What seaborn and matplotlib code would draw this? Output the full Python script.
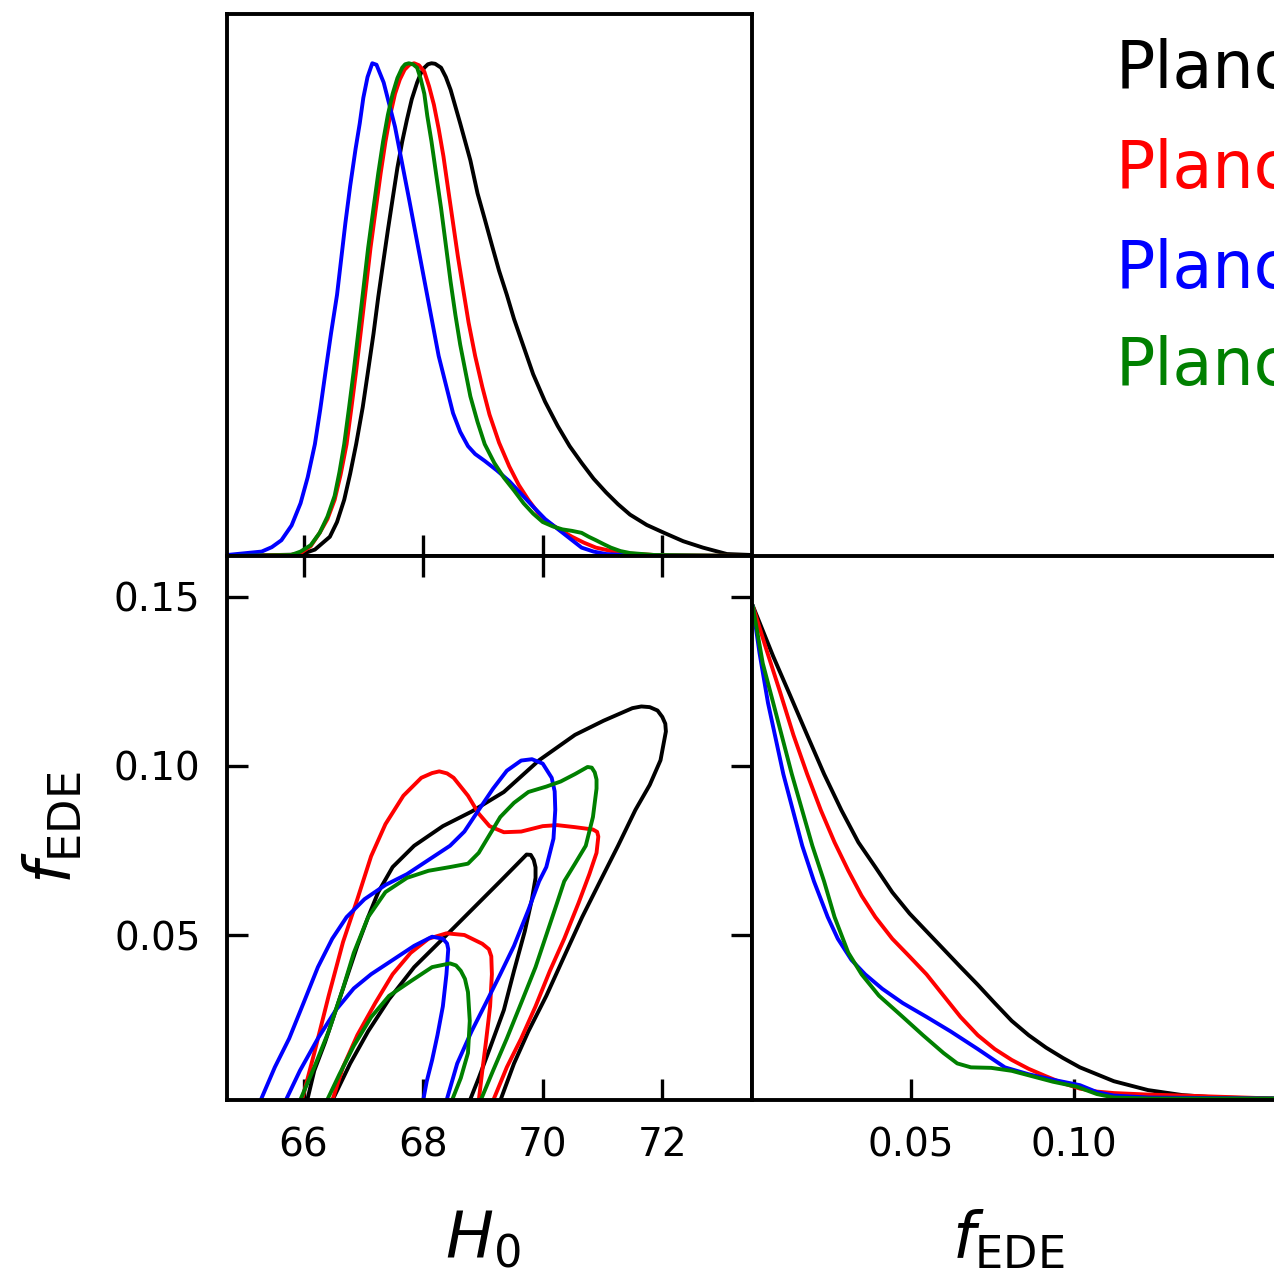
import numpy as np
import pandas as pd
import matplotlib
matplotlib.use("Agg")
import matplotlib.pyplot as plt
from matplotlib.ticker import FormatStrFormatter
import seaborn as sns

# ---------------- data ----------------
labels = ["Planck", "Planck+BAO", "Planck+SN", "Planck+BAO+SN"]
colors = ["black", "red", "blue", "green"]

# 1D marginal of H0 (normalised to peak = 1)
h0_black_x = [64.72, 65.95, 66.19, 66.44, 66.56, 66.68, 66.78, 66.88, 66.99, 67.08, 67.17, 67.25, 67.33, 67.41, 67.49,
              67.57, 67.65, 67.73, 67.81, 67.90, 67.96, 68.02, 68.08, 68.14, 68.20, 68.30, 68.38, 68.46, 68.62, 68.79,
              68.91, 69.03, 69.15, 69.27, 69.40, 69.52, 69.68, 69.84, 70.04, 70.25, 70.45, 70.65, 70.85, 71.06, 71.26,
              71.46, 71.74, 72.03, 72.35, 72.68, 73.08, 73.50]
h0_black_p = [0.0, 0.003, 0.013, 0.039, 0.069, 0.114, 0.167, 0.227, 0.302, 0.376, 0.451, 0.526, 0.594, 0.661, 0.725,
              0.788, 0.841, 0.886, 0.927, 0.961, 0.979, 0.991, 0.998, 1.0, 0.999, 0.991, 0.972, 0.946, 0.878, 0.803,
              0.736, 0.684, 0.631, 0.579, 0.530, 0.481, 0.425, 0.369, 0.313, 0.264, 0.223, 0.189, 0.157, 0.129, 0.105,
              0.084, 0.063, 0.047, 0.030, 0.017, 0.004, 0.002]
h0_red_x = [64.72, 65.79, 65.95, 66.12, 66.27, 66.40, 66.52, 66.62, 66.72, 66.80, 66.88, 66.96, 67.04, 67.12, 67.21,
            67.29, 67.37, 67.45, 67.53, 67.61, 67.69, 67.77, 67.85, 67.93, 68.02, 68.10, 68.18, 68.26, 68.34, 68.42,
            68.50, 68.58, 68.67, 68.76, 68.87, 68.99, 69.11, 69.27, 69.44, 69.60, 69.76, 69.92, 70.08, 70.29, 70.49,
            70.69, 70.89, 71.30, 71.87, 73.50]
h0_red_p = [0.0, 0.002, 0.006, 0.020, 0.047, 0.075, 0.114, 0.165, 0.227, 0.300, 0.376, 0.458, 0.541, 0.625, 0.706,
            0.777, 0.841, 0.895, 0.938, 0.967, 0.987, 0.997, 1.0, 0.996, 0.983, 0.953, 0.916, 0.867, 0.811, 0.743,
            0.676, 0.609, 0.541, 0.474, 0.406, 0.343, 0.287, 0.230, 0.182, 0.144, 0.114, 0.088, 0.069, 0.053, 0.039,
            0.027, 0.017, 0.006, 0.002, 0.0]
h0_blue_x = [64.72, 65.30, 65.47, 65.63, 65.80, 65.95, 66.07, 66.19, 66.28, 66.37, 66.46, 66.56, 66.70, 66.78, 66.87,
             66.94, 67.00, 67.07, 67.15, 67.22, 67.34, 67.53, 67.77, 68.02, 68.26, 68.50, 68.62, 68.75, 68.87, 69.03,
             69.23, 69.44, 69.64, 69.84, 70.04, 70.25, 70.45, 70.65, 70.85, 71.06, 71.46, 73.50]
h0_blue_p = [0.002, 0.009, 0.018, 0.032, 0.062, 0.107, 0.160, 0.227, 0.298, 0.376, 0.452, 0.530, 0.676, 0.751, 0.826,
             0.878, 0.930, 0.972, 1.0, 0.997, 0.961, 0.871, 0.721, 0.560, 0.406, 0.290, 0.252, 0.223, 0.207, 0.193,
             0.174, 0.152, 0.126, 0.100, 0.075, 0.055, 0.036, 0.017, 0.009, 0.004, 0.001, 0.0]
h0_green_x = [64.72, 65.79, 65.95, 66.12, 66.27, 66.40, 66.52, 66.60, 66.68, 66.76, 66.84, 66.92, 67.00, 67.08, 67.17,
              67.25, 67.33, 67.41, 67.49, 67.57, 67.65, 67.70, 67.76, 67.83, 67.90, 67.96, 68.02, 68.07, 68.14, 68.22,
              68.30, 68.38, 68.46, 68.54, 68.62, 68.71, 68.79, 68.91, 69.03, 69.19, 69.35, 69.52, 69.68, 69.84, 70.00,
              70.17, 70.33, 70.49, 70.65, 70.77, 70.89, 71.02, 71.14, 71.30, 71.46, 71.87, 73.50]
h0_green_p = [0.0, 0.002, 0.009, 0.022, 0.047, 0.080, 0.122, 0.170, 0.227, 0.300, 0.376, 0.458, 0.541, 0.625, 0.706,
              0.777, 0.841, 0.895, 0.938, 0.970, 0.991, 0.998, 1.0, 0.998, 0.991, 0.968, 0.938, 0.893, 0.841, 0.773,
              0.706, 0.631, 0.556, 0.489, 0.429, 0.373, 0.324, 0.272, 0.227, 0.189, 0.159, 0.133, 0.107, 0.086, 0.069,
              0.060, 0.054, 0.051, 0.047, 0.039, 0.032, 0.024, 0.017, 0.010, 0.006, 0.002, 0.0]

# 1D marginal of f_EDE (normalised to max = 1)
f_black_x = [0.0014, 0.0077, 0.0129, 0.0181, 0.0233, 0.0286, 0.0338, 0.0390, 0.0442, 0.0495, 0.0547, 0.0599, 0.0651,
             0.0704, 0.0756, 0.0808, 0.0860, 0.0913, 0.0965, 0.1017, 0.1069, 0.1121, 0.1226, 0.1330, 0.1435, 0.1611]
f_black_p = [1.0, 0.897, 0.818, 0.738, 0.659, 0.586, 0.521, 0.471, 0.420, 0.377, 0.341, 0.305, 0.269,
             0.233, 0.196, 0.160, 0.131, 0.106, 0.085, 0.066, 0.052, 0.038, 0.020, 0.010, 0.005, 0.003]
f_red_x = [0.0014, 0.0056, 0.0098, 0.0139, 0.0181, 0.0223, 0.0265, 0.0307, 0.0348, 0.0390, 0.0442, 0.0495, 0.0547,
           0.0599, 0.0651, 0.0704, 0.0756, 0.0808, 0.0860, 0.0913, 0.0965, 0.1017, 0.1069, 0.1121, 0.1226, 0.1330, 0.1611]
f_red_p = [1.0, 0.911, 0.825, 0.738, 0.659, 0.586, 0.521, 0.464, 0.413, 0.370, 0.326, 0.290, 0.254,
           0.211, 0.168, 0.131, 0.103, 0.081, 0.063, 0.048, 0.034, 0.023, 0.017, 0.014, 0.011, 0.009, 0.003]
f_blue_x = [0.0014, 0.0035, 0.0061, 0.0108, 0.0166, 0.0202, 0.0244, 0.0275, 0.0317, 0.0359, 0.0411, 0.0474, 0.0547,
            0.0620, 0.0704, 0.0787, 0.0860, 0.0934, 0.1017, 0.1069, 0.1121, 0.1226, 0.1611]
f_blue_p = [1.0, 0.904, 0.803, 0.659, 0.514, 0.442, 0.370, 0.326, 0.283, 0.254, 0.225, 0.196, 0.168,
            0.139, 0.103, 0.066, 0.052, 0.041, 0.030, 0.016, 0.009, 0.005, 0.003]
f_green_x = [0.0014, 0.0045, 0.0077, 0.0134, 0.0197, 0.0233, 0.0265, 0.0307, 0.0348, 0.0401, 0.0474, 0.0536, 0.0599,
             0.0641, 0.0683, 0.0745, 0.0808, 0.0871, 0.0934, 0.1007, 0.1069, 0.1121, 0.1226, 0.1611]
f_green_p = [1.0, 0.883, 0.803, 0.659, 0.514, 0.442, 0.370, 0.298, 0.254, 0.211, 0.168, 0.131, 0.095,
             0.074, 0.066, 0.065, 0.059, 0.048, 0.037, 0.027, 0.012, 0.005, 0.003, 0.003]

# 2D contours (H0, f_EDE): outer = 95%, inner = 68%
c_black_out_h = [66.06, 66.18, 66.36, 66.54, 66.72, 66.90, 67.08, 67.25, 67.49, 67.85, 68.33, 68.81, 69.35, 69.94, 70.54,
                 71.02, 71.50, 71.65, 71.79, 71.92, 72.00, 72.05, 72.06, 71.97, 71.79, 71.55, 71.26, 70.96, 70.66, 70.36,
                 70.06, 69.76, 69.52, 69.29]
c_black_out_f = [0.001, 0.0099, 0.0183, 0.0278, 0.0373, 0.0468, 0.0553, 0.0627, 0.0701, 0.0764, 0.0822, 0.0865, 0.0923,
                 0.1017, 0.1092, 0.1134, 0.1171, 0.1176, 0.1174, 0.1164, 0.1145, 0.1125, 0.1102, 0.1017, 0.0944, 0.0870,
                 0.0764, 0.0659, 0.0553, 0.0437, 0.0320, 0.0215, 0.0120, 0.001]
c_black_in_h = [66.48, 66.78, 67.08, 67.43, 67.85, 68.33, 68.81, 69.29, 69.58, 69.73, 69.80, 69.85, 69.88, 69.88, 69.82,
                69.70, 69.52, 69.35, 69.11, 68.93, 68.78]
c_black_in_f = [0.001, 0.0120, 0.0215, 0.0310, 0.0405, 0.0489, 0.0574, 0.0659, 0.0711, 0.0738, 0.0737, 0.0722, 0.0700,
                0.0669, 0.0606, 0.0511, 0.0394, 0.0278, 0.0162, 0.0077, 0.001]
c_red_out_h = [65.97, 66.18, 66.42, 66.66, 66.90, 67.13, 67.37, 67.67, 67.97, 68.15, 68.27, 68.40, 68.51, 68.75, 68.93,
               69.11, 69.35, 69.64, 70.00, 70.24, 70.54, 70.84, 70.91, 70.93, 70.90, 70.78, 70.60, 70.36, 70.12, 69.88,
               69.64, 69.40, 69.17]
c_red_out_f = [0.001, 0.0151, 0.0320, 0.0479, 0.0606, 0.0733, 0.0828, 0.0912, 0.0965, 0.0979, 0.0984, 0.0978, 0.0965,
               0.0912, 0.0859, 0.0822, 0.0804, 0.0806, 0.0822, 0.0825, 0.0819, 0.0812, 0.0805, 0.0791, 0.0743, 0.0680,
               0.0595, 0.0489, 0.0394, 0.0289, 0.0194, 0.0109, 0.001]
c_red_in_h = [66.48, 66.66, 66.90, 67.20, 67.49, 67.79, 68.09, 68.39, 68.69, 68.99, 69.10, 69.14, 69.15, 69.12, 69.05,
              68.99, 68.93]
c_red_in_f = [0.001, 0.0109, 0.0204, 0.0299, 0.0384, 0.0447, 0.0489, 0.0505, 0.0500, 0.0474, 0.0458, 0.0437, 0.0384,
              0.0289, 0.0183, 0.0099, 0.001]
c_blue_out_h = [65.28, 65.52, 65.76, 66.00, 66.24, 66.48, 66.72, 67.02, 67.37, 67.73, 68.09, 68.45, 68.69, 68.93, 69.17,
                69.40, 69.64, 69.82, 70.00, 70.15, 70.20, 70.21, 70.18, 70.06, 69.94, 69.76, 69.52, 69.29, 69.05, 68.81,
                68.57, 68.39]
c_blue_out_f = [0.001, 0.0109, 0.0194, 0.0299, 0.0405, 0.0489, 0.0553, 0.0606, 0.0648, 0.0680, 0.0722, 0.0764, 0.0806,
                0.0870, 0.0933, 0.0986, 0.1016, 0.1020, 0.1007, 0.0965, 0.0925, 0.0870, 0.0785, 0.0701, 0.0659, 0.0574,
                0.0468, 0.0384, 0.0299, 0.0215, 0.0120, 0.001]
c_blue_in_h = [65.70, 65.94, 66.24, 66.54, 66.84, 67.13, 67.49, 67.85, 68.15, 68.33, 68.40, 68.42, 68.39, 68.33, 68.24,
               68.15, 68.06, 68.00]
c_blue_in_f = [0.001, 0.0099, 0.0194, 0.0278, 0.0342, 0.0384, 0.0426, 0.0468, 0.0495, 0.0489, 0.0475, 0.0458, 0.0384,
               0.0289, 0.0204, 0.0130, 0.0067, 0.001]
c_green_out_h = [65.94, 66.18, 66.42, 66.66, 66.84, 67.08, 67.37, 67.73, 68.09, 68.45, 68.75, 68.93, 69.11, 69.29, 69.52,
                 69.76, 70.06, 70.30, 70.54, 70.75, 70.82, 70.87, 70.90, 70.90, 70.84, 70.72, 70.54, 70.36, 70.24, 70.06,
                 69.88, 69.64, 69.40, 69.17, 68.96]
c_green_out_f = [0.001, 0.0109, 0.0215, 0.0342, 0.0447, 0.0553, 0.0627, 0.0669, 0.0690, 0.0701, 0.0711, 0.0743, 0.0796,
                 0.0849, 0.0891, 0.0923, 0.0939, 0.0954, 0.0976, 0.0997, 0.0995, 0.0981, 0.0960, 0.0933, 0.0849, 0.0764,
                 0.0711, 0.0659, 0.0595, 0.0500, 0.0405, 0.0299, 0.0194, 0.0099, 0.001]
c_green_in_h = [66.39, 66.60, 66.84, 67.13, 67.43, 67.79, 68.15, 68.45, 68.55, 68.63, 68.70, 68.75, 68.78, 68.75, 68.63,
                68.48]
c_green_in_f = [0.001, 0.0088, 0.0172, 0.0257, 0.0320, 0.0363, 0.0405, 0.0416, 0.0410, 0.0394, 0.0370, 0.0331, 0.0246,
                0.0151, 0.0077, 0.001]

h0_ticks = [66, 68, 70, 72]
f_ticks_y = [0.05, 0.10, 0.15]
f_ticks_x = [0.05, 0.10]

# ---------------- style ----------------
sns.set_theme(style="white")
plt.rcParams["font.family"] = ["DejaVu Sans"]
plt.rcParams["mathtext.fontset"] = "dejavusans"
plt.rcParams["lines.solid_joinstyle"] = "round"
plt.rcParams["lines.solid_capstyle"] = "round"

LW = 2.8
SPINE = 2.8
TICK_LEN = 15
TICK_W = 2.4
TICK_FS = 28

fig = plt.figure(figsize=(12.74, 12.73), dpi=100)
W, H = 1274.0, 1273.0
def rect(x0, y0, x1, y1):
    return [x0 / W, 1 - y1 / H, (x1 - x0) / W, (y1 - y0) / H]

ax_h = fig.add_axes(rect(227, 14, 752, 556))
ax_2d = fig.add_axes(rect(227, 556, 752, 1100))
ax_f = fig.add_axes(rect(752, 556, 1277, 1100))

H0_LIM = (64.72, 73.50)
F_LIM = (0.0012, 0.1621)

# top: H0 marginals
for xs, ps, c in [(h0_black_x, h0_black_p, colors[0]), (h0_red_x, h0_red_p, colors[1]),
                  (h0_blue_x, h0_blue_p, colors[2]), (h0_green_x, h0_green_p, colors[3])]:
    sns.lineplot(x=xs, y=ps, ax=ax_h, color=c, lw=LW, sort=False, estimator=None)
ax_h.set_xlim(*H0_LIM)
ax_h.set_ylim(0, 1.1)

# 2D contours
contours = [
    (c_black_out_h, c_black_out_f, colors[0]), (c_black_in_h, c_black_in_f, colors[0]),
    (c_red_out_h, c_red_out_f, colors[1]), (c_red_in_h, c_red_in_f, colors[1]),
    (c_blue_out_h, c_blue_out_f, colors[2]), (c_blue_in_h, c_blue_in_f, colors[2]),
    (c_green_out_h, c_green_out_f, colors[3]), (c_green_in_h, c_green_in_f, colors[3]),
]
for hs, fs, c in contours:
    sns.lineplot(x=hs, y=fs, ax=ax_2d, color=c, lw=LW, sort=False, estimator=None)
ax_2d.set_xlim(*H0_LIM)
ax_2d.set_ylim(*F_LIM)

# f_EDE marginals
for xs, ps, c in [(f_black_x, f_black_p, colors[0]), (f_red_x, f_red_p, colors[1]),
                  (f_blue_x, f_blue_p, colors[2]), (f_green_x, f_green_p, colors[3])]:
    sns.lineplot(x=xs, y=ps, ax=ax_f, color=c, lw=LW, sort=False, estimator=None)
ax_f.set_xlim(*F_LIM)
ax_f.set_ylim(0, 1.1)

# axes cosmetics
for ax in (ax_h, ax_2d, ax_f):
    for s in ax.spines.values():
        s.set_linewidth(SPINE)
        s.set_color("black")
        s.set_visible(True)
    ax.set_facecolor("white")

ax_h.set_xticks(h0_ticks)
ax_h.set_yticks([])
ax_h.tick_params(axis="x", direction="in", length=TICK_LEN, width=TICK_W, labelbottom=False,
                 bottom=True, color="black")

ax_2d.set_xticks(h0_ticks)
ax_2d.set_yticks(f_ticks_y)
ax_2d.yaxis.set_major_formatter(FormatStrFormatter("%.2f"))
ax_2d.tick_params(axis="both", direction="in", length=TICK_LEN, width=TICK_W, labelsize=TICK_FS,
                  top=True, right=True, bottom=True, left=True, color="black", labelcolor="black")
ax_2d.tick_params(axis="x", pad=19)
ax_2d.tick_params(axis="y", pad=19)

ax_f.set_xticks(f_ticks_x)
ax_f.set_yticks([])
ax_f.xaxis.set_major_formatter(FormatStrFormatter("%.2f"))
ax_f.tick_params(axis="x", direction="in", length=TICK_LEN, width=TICK_W, labelsize=TICK_FS, pad=19,
                 bottom=True, color="black", labelcolor="black")

ax_2d.set_xlabel(r"$H_0$", fontsize=46, color="black")
ax_2d.set_ylabel(r"$f_{\rm EDE}$", fontsize=46, color="black")
ax_f.set_xlabel(r"$f_{\rm EDE}$", fontsize=46, color="black")
ax_2d.xaxis.set_label_coords((483 - 227) / 525.0, -(1208 - 1100) / 544.0)
ax_f.xaxis.set_label_coords((1008 - 752) / 525.0, -(1208 - 1100) / 544.0)
ax_2d.yaxis.set_label_coords(-(227 - 84) / 525.0, 0.5)

ax_h.set_xlabel("")
ax_h.set_ylabel("")
ax_f.set_ylabel("")

# legend-style coloured labels (cut by the figure edge as in the reference)
legend_y = [70, 170, 270, 367]
for lab, c, yy in zip(labels, colors, legend_y):
    fig.text(1116 / W, 1 - yy / H, lab, color=c, fontsize=47, ha="left", va="center")

fig.savefig("out.png", dpi=100, facecolor="white")
